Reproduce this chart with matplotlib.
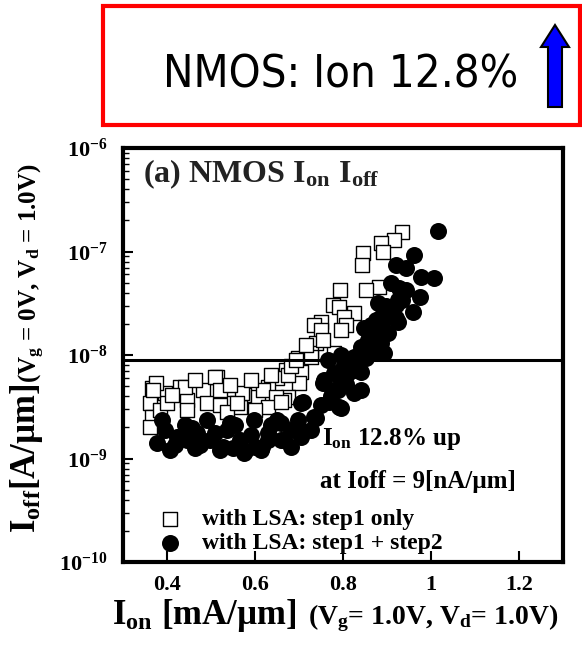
import math
import matplotlib
matplotlib.use("Agg")
import matplotlib.pyplot as plt
from matplotlib import font_manager
from matplotlib.patches import Rectangle, FancyArrow
from matplotlib.ticker import LogLocator, FuncFormatter, NullLocator

plt.rcParams["font.family"] = ["Liberation Serif", "DejaVu Serif"]
plt.rcParams["font.weight"] = "bold"
plt.rcParams["mathtext.fontset"] = "custom"
plt.rcParams["mathtext.rm"] = "Liberation Serif:bold"
plt.rcParams["mathtext.it"] = "Liberation Serif:bold"
plt.rcParams["mathtext.bf"] = "Liberation Serif:bold"

# with LSA: step1 only (open squares) - Ion [mA/um], Ioff [nA/um]
sq_ion = [0.933, 0.917, 0.887, 0.891, 0.846, 0.843, 0.882, 0.793, 0.777, 0.791,
          0.825, 0.802, 0.750, 0.807, 0.734, 0.750, 0.738, 0.727, 0.779,
          0.697, 0.727, 0.670, 0.704, 0.651, 0.699, 0.674, 0.629, 0.574, 0.606,
          0.514, 0.482, 0.430, 0.395, 0.366, 0.361, 0.366, 0.446, 0.491, 0.537,
          0.567, 0.665, 0.361,
          0.375, 0.441, 0.510, 0.521, 0.571, 0.619, 0.647, 0.674, 0.384, 0.446,
          0.521, 0.537, 0.400, 0.560, 0.629, 0.658, 0.368,
          0.411, 0.464, 0.544, 0.590, 0.636, 0.681, 0.715, 0.693, 0.754, 0.795,
          0.601, 0.853]
sq_ioff = [154, 129, 121, 99, 97, 74, 45, 42, 30.4, 29,
           25.5, 23.3, 20.8, 19.5, 19.5, 17.5, 13.1, 10.4, 10.4,
           9.4, 9.6, 7.2, 6.9, 6.0, 5.4, 3.9, 4.9, 4.1, 3.9,
           6.1, 4.6, 4.9, 4.3, 4.8, 3.45, 2.5, 3.7, 3.45, 3.45,
           3.15, 3.7, 2.0,
           5.4, 4.9, 6.1, 4.6, 4.3, 4.6, 3.9, 6.4, 2.95, 2.95,
           3.3, 2.8, 3.45, 3.45, 3.15, 3.5, 4.6,
           4.1, 5.7, 5.1, 5.7, 6.4, 7.9, 12.5, 8.9, 14.0, 17.5,
           2.95, 42]

# with LSA: step1 + step2 (filled circles)
ci_ion = [1.017, 0.962, 0.921, 0.944, 0.978, 1.006, 0.910, 0.928, 0.974, 0.926,
          0.880, 0.960, 0.910, 0.926, 0.848, 0.887, 0.864, 0.894, 0.825, 0.779,
          0.757, 0.811, 0.779, 0.825, 0.791, 0.704, 0.734, 0.887, 0.903, 0.857,
          0.887, 0.841, 0.869, 0.766, 0.818, 0.754, 0.789, 0.841, 0.768, 0.795,
          0.738, 0.658, 0.697, 0.629, 0.658, 0.704, 0.617, 0.389, 0.377, 0.407,
          0.446, 0.457, 0.491, 0.498, 0.528, 0.567, 0.574, 0.597, 0.629, 0.613,
          0.651, 0.665, 0.697, 0.709, 0.469, 0.537, 0.423, 0.544, 0.802, 0.834,
          0.795, 0.852, 0.876, 0.921, 0.944,
          0.395, 0.418, 0.441, 0.475, 0.510, 0.521, 0.555, 0.590, 0.601, 0.636,
          0.681, 0.727, 0.750, 0.578, 0.464, 0.549, 0.681,
          0.795, 0.852, 0.830, 0.841, 0.807, 0.773, 0.876, 0.898, 0.864, 0.921,
          0.933]
ci_ioff = [158, 92, 74, 69, 57, 55, 50, 44, 36, 34,
           32, 26, 23.3, 20.8, 18.2, 19.5, 14.0, 10.4, 9.6, 6.7,
           5.7, 6.7, 4.6, 4.3, 3.15, 3.45, 2.5, 23.3, 16.3, 14.0,
           13.1, 11.9, 10.4, 9.0, 9.0, 5.4, 4.6, 4.6, 3.5, 3.1,
           2.45, 2.2, 1.97, 1.76, 1.51, 1.61, 1.29, 2.35, 1.41, 1.21,
           1.51, 1.97, 2.35, 1.51, 1.29, 1.51, 1.13, 2.35, 1.51, 1.21,
           2.35, 1.51, 2.35, 3.5, 1.76, 1.88, 1.61, 2.2, 8.0, 8.0,
           5.7, 11.3, 15.5, 30.4, 42,
           1.88, 1.36, 2.1, 1.36, 1.76, 1.21, 2.1, 1.7, 1.29, 2.1,
           1.88, 1.88, 3.3, 1.17, 1.27, 1.27, 1.29,
           10.0, 9.4, 7.2, 6.9, 5.2, 4.0, 22, 30, 19.5, 23,
           34]

ioff_target = 9  # nA/um
x_ticks = [0.4, 0.6, 0.8, 1.0, 1.2]

fig = plt.figure(figsize=(5.82, 6.45), dpi=100)
ax = fig.add_axes([123 / 582, 1 - 562 / 645, 440 / 582, 414 / 645])

sq = ax.scatter(sq_ion, [v * 1e-9 for v in sq_ioff], marker="s", s=110,
                facecolors="white", edgecolors="black", linewidths=1.0, zorder=2)
ci = ax.scatter(ci_ion, [v * 1e-9 for v in ci_ioff], marker="o", s=150,
                color="black", linewidths=0, zorder=3)
ax.axhline(ioff_target * 1e-9, color="black", lw=2.2, zorder=4)

ax.set_yscale("log")
ax.set_xlim(0.3, 1.3)
ax.set_ylim(1e-10, 1e-6)
ax.set_xticks(x_ticks)
ax.xaxis.set_major_formatter(FuncFormatter(lambda v, _: f"{v:g}"))
ax.xaxis.set_minor_locator(NullLocator())
ax.yaxis.set_major_locator(LogLocator(base=10, numticks=10))
ax.yaxis.set_minor_locator(LogLocator(base=10, subs=range(2, 10), numticks=50))
ax.yaxis.set_major_formatter(FuncFormatter(lambda v, _: r"$10^{%d}$" % round(math.log10(v))))

ax.tick_params(axis="y", which="major", direction="in", length=7, width=1.5,
               labelsize=16, pad=11, right=False)
ax.tick_params(axis="y", which="minor", direction="in", length=4, width=1.0, right=False)
ax.tick_params(axis="x", which="major", direction="in", length=8, width=1.5,
               labelsize=16, pad=9, top=False)
for sp in ax.spines.values():
    sp.set_linewidth(3)

ax.text(0.045, 0.918, r"(a) NMOS $\mathrm{I_{on}\,\,I_{off}}$", transform=ax.transAxes,
        fontsize=23, color="#222222", va="baseline")
ax.text(0.452, 0.283, r"$\mathrm{I_{on}}$ 12.8% up", transform=ax.transAxes,
        fontsize=18, va="baseline")
ax.text(0.448, 0.179, "at Ioff = 9[nA/µm]", transform=ax.transAxes,
        fontsize=18, va="baseline")

ax.legend([sq, ci], ["with LSA: step1 only", "with LSA: step1 + step2"],
          loc="lower left", bbox_to_anchor=(0.08, 0.02), frameon=False,
          fontsize=17, handlelength=1.0, handletextpad=0.86, labelspacing=0.1,
          borderpad=0, borderaxespad=0, scatterpoints=1)

# axis labels, built from pieces of two sizes
fig.text(112 / 582, 1 - 624 / 645, r"$\mathrm{I_{on}}$ [mA/µm]", fontsize=25,
         ha="left", va="baseline")
fig.text(308 / 582, 1 - 624 / 645, r"(V$_\mathrm{g}$= 1.0V, V$_\mathrm{d}$= 1.0V)",
         fontsize=20, ha="left", va="baseline")
fig.text(35 / 582, 1 - 533 / 645, r"$\mathrm{I_{off}}$[A/µm]", fontsize=25,
         rotation=90, rotation_mode="anchor", ha="left", va="baseline")
fig.text(37 / 582, 1 - 383 / 645, r"(V$_\mathrm{g}$ = 0V, V$_\mathrm{d}$ = 1.0V)",
         fontsize=18, rotation=90, rotation_mode="anchor", ha="left", va="baseline")

# highlight box at the top
fig.patches.append(Rectangle((103 / 582, 1 - 125 / 645), 477 / 582, 119 / 645,
                             transform=fig.transFigure, facecolor="white",
                             edgecolor="#ff0000", linewidth=3, zorder=5))

# pick an upright narrow sans face if one is installed
narrow = None
for f in font_manager.fontManager.ttflist:
    nm = f.name.lower()
    is_narrow = "narrow" in nm or "condensed" in nm or \
        str(f.stretch) in ("condensed", "semi-condensed", "extra-condensed")
    if is_narrow and f.style == "normal" and f.weight in (400, "normal", "regular") \
            and ("sans" in nm or "serif" not in nm):
        narrow = f.fname
        break
if narrow:
    head_font = font_manager.FontProperties(fname=narrow, size=38)
else:
    head_font = font_manager.FontProperties(family="Roboto", size=38)

head = fig.text(163 / 582, 1 - 88 / 645, "NMOS: Ion 12.8%", fontproperties=head_font,
                ha="left", va="baseline", zorder=6)
# fit the headline to the width it takes in the slide
fig.canvas.draw()
w = head.get_window_extent().width
head.set_fontsize(38 * 355 / w)

fig.patches.append(FancyArrow(5.55, 5.38, 0, 0.82, width=0.14, head_width=0.28,
                              head_length=0.22, length_includes_head=True,
                              facecolor="#0000ff", edgecolor="black", linewidth=1.5,
                              transform=fig.dpi_scale_trans, zorder=6))

fig.savefig("out.png", dpi=100)
